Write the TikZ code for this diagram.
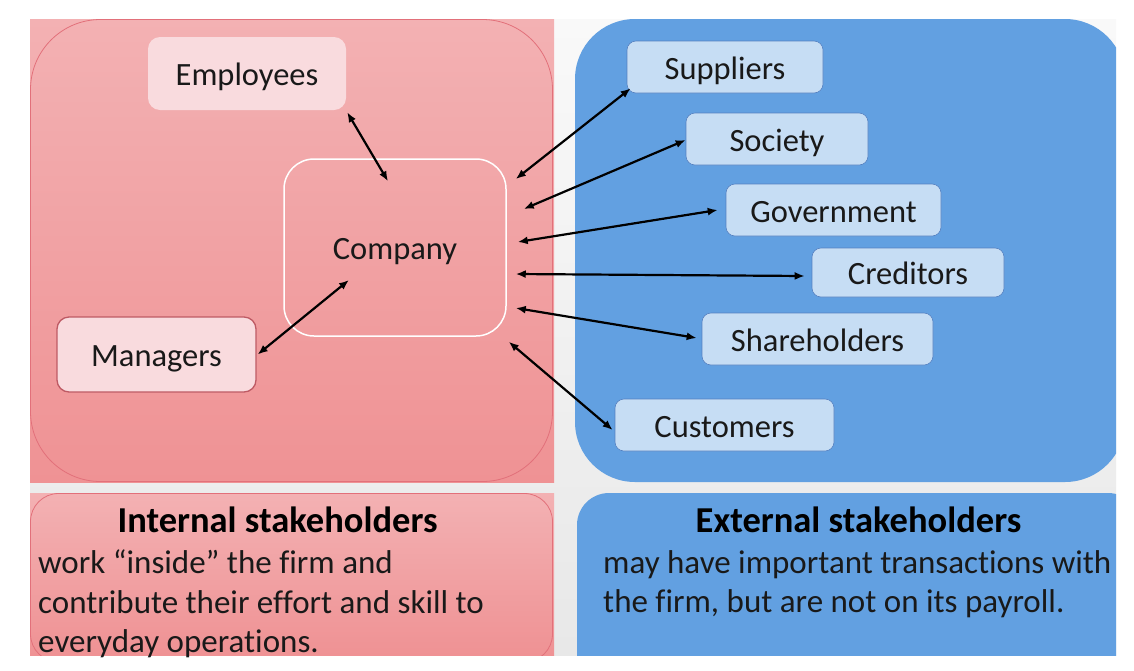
\documentclass[tikz,border=0pt]{standalone}
\usepackage{fontspec}
\setmainfont[Ligatures={NoCommon}]{Carlito}
\usetikzlibrary{arrows.meta,calc}
\definecolor{pinkT}{HTML}{F3B1B3}
\definecolor{pinkB}{HTML}{EF9294}
\definecolor{pinkline}{HTML}{E2707A}
\definecolor{pinknode}{HTML}{F9DBDE}
\definecolor{pinknodeline}{HTML}{BE5A64}
\definecolor{bluefill}{HTML}{62A0E1}
\definecolor{bluenode}{HTML}{C6DDF4}
\definecolor{bluenodeline}{HTML}{5580C0}
\definecolor{grayT}{HTML}{F9F9F9}
\definecolor{grayB}{HTML}{E8E8E8}
\tikzset{
  lbl/.style={font=\fontsize{32.5}{38}\selectfont, text=black!90, text height=24.5pt, text depth=0pt},
  inbox/.style={lbl, fill=pinknode, rounded corners=12, inner sep=0},
  compbox/.style={lbl, draw=white, line width=1.5, rounded corners=30, inner sep=0},
  exbox/.style={lbl, fill=bluenode, draw=bluenodeline, line width=0.6, rounded corners=9, inner sep=0},
  dbl/.style={{Latex[length=10,width=8]}-{Latex[length=10,width=8]}, line width=2.2, black},
  head/.style={font=\fontsize{36.5}{42}\selectfont\bfseries, text=black, inner sep=0},
  body/.style={font=\fontsize{33}{39.5}\selectfont, text=black!90, inner sep=0, align=left, anchor=north west}
}
\begin{document}
\begin{tikzpicture}[x=1pt,y=-1pt]
\useasboundingbox (0,0) rectangle (1134,670);
\fill[white] (0,0) rectangle (1134,670);
\begin{scope}
\clip (30,19) rectangle (1116,655);
% gray background
\fill[top color=grayT, bottom color=grayB] (30,19) rectangle (1116,655);
% pink top panel
\fill[top color=pinkT, bottom color=pinkB] (30,19) rectangle (554,482);
\draw[pinkline, line width=0.8, rounded corners=70] (30.5,19.5) rectangle (552.5,481.5);
% pink bottom panel
\fill[top color=pinkT, bottom color=pinkB] (30,493) rectangle (554,655);
\draw[pinkline, line width=0.8, rounded corners=28] (30.5,493.5) rectangle (552.5,662);
% blue top panel
\fill[bluefill, rounded corners=60] (575,19) rectangle (1125,482);
% blue bottom panel
\fill[bluefill, rounded corners=32] (577,493) rectangle (1140,700);
\end{scope}

% nodes
\node[inbox, minimum width=198, minimum height=73] (emp) at (247,73.5) {Employees};
\node[compbox, minimum width=222, minimum height=177] (comp) at (395,247.5) {Company};
\node[inbox, draw=pinknodeline, line width=1.3, minimum width=199, minimum height=75] (mgr) at (156.5,354.5) {Managers};
\node[exbox, minimum width=196, minimum height=52] (sup) at (725,67) {Suppliers};
\node[exbox, minimum width=182, minimum height=52] (soc) at (777,139) {Society};
\node[exbox, minimum width=215, minimum height=52] (gov) at (833.5,210) {Government};
\node[exbox, minimum width=192, minimum height=49] (cred) at (908,272.5) {Creditors};
\node[exbox, minimum width=231, minimum height=52] (sh) at (817.5,339) {Shareholders};
\node[exbox, minimum width=219, minimum height=52] (cust) at (724.5,425) {Customers};

% arrows
\draw[dbl] ([shift={(1,2)}]emp.south east) -- ([shift={(-7,23)}]comp.north);
\draw[dbl] ([shift={(1,0)}]mgr.east) -- ([shift={(-46,32.5)}]comp.center);
\draw[dbl] ([shift={(9,-68.5)}]comp.east) -- ([shift={(4,-5)}]sup.south west);
\draw[dbl] ([shift={(17,-38.5)}]comp.east) -- ([shift={(0,1)}]soc.west);
\draw[dbl] ([shift={(11,-5.5)}]comp.east) -- ([shift={(-8,0)}]gov.west);
\draw[dbl] ([shift={(9,26.5)}]comp.east) -- ([shift={(-7,3.5)}]cred.west);
\draw[dbl] ([shift={(9,60.5)}]comp.east) -- ([shift={(-5,-1)}]sh.west);
\draw[dbl] ([shift={(2,5)}]comp.south east) -- ([shift={(-2,5)}]cust.west);

% captions
\node[head, anchor=base] (ih) at (277.5,532.5) {Internal stakeholders};
\node[body] (ib) at (38,549.5) {work “inside” the firm and\\contribute their effort and skill to\\everyday operations.};
\node[head, anchor=base] (eh) at (858.5,532.5) {External stakeholders};
\node[body] (eb) at (603,550) {may have important transactions with\\the firm, but are not on its payroll.};
\end{tikzpicture}
\end{document}
